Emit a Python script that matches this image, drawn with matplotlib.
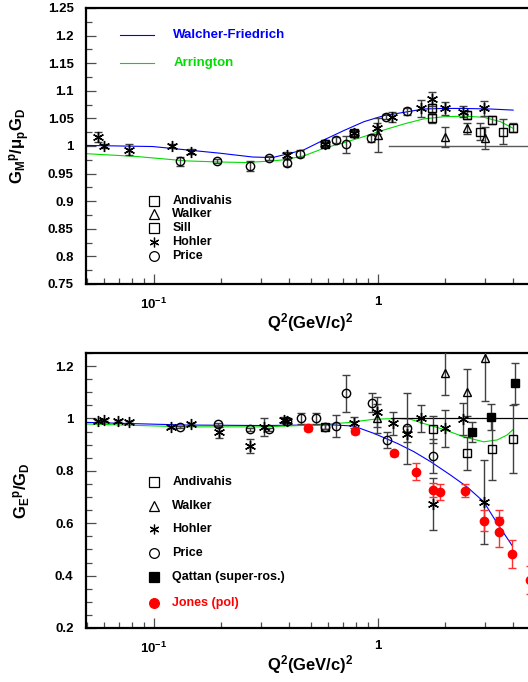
import numpy as np
import matplotlib
matplotlib.use('Agg')
import matplotlib.pyplot as plt
from matplotlib.ticker import MultipleLocator, FormatStrFormatter, NullFormatter, LogLocator

plt.rcParams['font.family'] = ['Liberation Sans', 'DejaVu Sans']
plt.rcParams['mathtext.fontset'] = 'custom'
plt.rcParams['mathtext.rm'] = 'Liberation Sans'
plt.rcParams['mathtext.it'] = 'Liberation Sans:bold'
plt.rcParams['mathtext.bf'] = 'Liberation Sans:bold'

# ---------------- top panel: G_M^p / mu_p G_D ----------------
wf_m_x = [0.05, 0.0987, 0.139, 0.196, 0.276, 0.339, 0.38, 0.467, 0.574, 0.705, 0.866,
          1.064, 1.31, 1.60, 1.97, 2.42, 3.18, 4.02]
wf_m_y = [1.001, 0.999, 0.993, 0.987, 0.980, 0.979, 0.984, 0.993, 1.011, 1.028, 1.044,
          1.055, 1.061, 1.067, 1.068, 1.068, 1.067, 1.065]
ar_m_x = [0.05, 0.0834, 0.139, 0.196, 0.257, 0.339, 0.38, 0.467, 0.574, 0.705, 0.866,
          1.064, 1.31, 1.60, 1.97, 2.42, 2.97, 3.53, 4.02]
ar_m_y = [0.986, 0.981, 0.973, 0.971, 0.970, 0.973, 0.975, 0.982, 0.996, 1.006, 1.017,
          1.029, 1.040, 1.049, 1.053, 1.054, 1.052, 1.044, 1.032]

andiv_m_x = [1.75, 2.5, 3.25, 4.0]
andiv_m_y = [1.050, 1.056, 1.047, 1.033]
andiv_m_e = [0.008, 0.008, 0.008, 0.008]
walker_m_x = [1.0, 2.0, 2.49, 3.0]
walker_m_y = [1.020, 1.017, 1.032, 1.014]
walker_m_e = [0.030, 0.018, 0.010, 0.020]
sill_m_x = [0.58, 0.78, 1.75, 2.87, 3.62]
sill_m_y = [1.004, 1.023, 1.068, 1.026, 1.026]
sill_m_e = [0.006, 0.006, 0.008, 0.015, 0.023]
hohler_m_x = [0.0561, 0.060, 0.0776, 0.120, 0.146, 0.391, 0.58, 0.78, 0.99, 1.158,
              1.56, 1.75, 2.0, 2.40, 2.99]
hohler_m_y = [1.017, 1.000, 0.993, 1.000, 0.990, 0.984, 1.004, 1.023, 1.032, 1.053,
              1.068, 1.085, 1.068, 1.062, 1.068]
hohler_m_e = [0.009, 0.004, 0.010, 0.004, 0.004, 0.006, 0.004, 0.005, 0.010, 0.009,
              0.016, 0.012, 0.012, 0.010, 0.014]
price_m_x = [0.1306, 0.1905, 0.268, 0.327, 0.391, 0.449, 0.58, 0.647, 0.722, 0.782,
             0.933, 1.09, 1.35]
price_m_y = [0.972, 0.973, 0.964, 0.978, 0.970, 0.986, 1.004, 1.011, 1.003, 1.023,
             1.014, 1.053, 1.063]
price_m_e = [0.0085, 0.004, 0.009, 0.004, 0.006, 0.006, 0.004, 0.006, 0.015, 0.006,
             0.006, 0.005, 0.006]

# ---------------- bottom panel: G_E^p / G_D ----------------
wf_e_x = [0.05, 0.139, 0.31, 0.615, 0.78, 0.96, 1.22, 1.45, 1.72, 2.11, 2.50, 2.97, 3.41, 3.99]
wf_e_y = [0.985, 0.975, 0.973, 0.976, 0.971, 0.943, 0.905, 0.873, 0.835, 0.784, 0.739,
          0.682, 0.600, 0.513]
ar_e_x = [0.05, 0.139, 0.31, 0.518, 0.73, 0.96, 1.22, 1.40, 1.60, 1.97, 2.42, 2.97,
          3.41, 3.78, 4.02]
ar_e_y = [0.979, 0.968, 0.968, 0.975, 0.984, 0.997, 1.000, 0.997, 0.981, 0.958, 0.930,
          0.911, 0.918, 0.937, 0.958]

andiv_e_x = [0.58, 1.76, 2.5, 3.25, 4.0]
andiv_e_y = [0.968, 0.958, 0.867, 0.883, 0.920]
andiv_e_e = [0.010, 0.050, 0.064, 0.118, 0.130]
walker_e_x = [0.993, 2.0, 2.49, 3.0]
walker_e_y = [1.000, 1.172, 1.100, 1.230]
walker_e_e = [0.057, 0.083, 0.090, 0.165]
hohler_e_x = [0.0561, 0.060, 0.0688, 0.0772, 0.119, 0.146, 0.195, 0.268, 0.311, 0.382,
              0.391, 0.78, 0.987, 1.17, 1.35, 1.56, 1.76, 2.0, 2.41, 2.99]
hohler_e_y = [0.991, 0.994, 0.991, 0.987, 0.968, 0.979, 0.947, 0.895, 0.966, 0.994,
              0.991, 0.984, 1.026, 0.981, 0.941, 1.000, 0.673, 0.962, 0.998, 0.680]
hohler_e_e = [0.005, 0.005, 0.005, 0.005, 0.005, 0.005, 0.022, 0.027, 0.034, 0.010,
              0.010, 0.020, 0.057, 0.045, 0.030, 0.050, 0.100, 0.071, 0.060, 0.160]
price_e_x = [0.130, 0.193, 0.267, 0.327, 0.391, 0.452, 0.530, 0.58, 0.652, 0.72,
             0.943, 1.10, 1.35, 1.76]
price_e_y = [0.968, 0.977, 0.958, 0.958, 0.991, 1.000, 1.000, 0.968, 0.972, 1.096,
             1.061, 0.918, 0.962, 0.857]
price_e_e = [0.005, 0.006, 0.006, 0.006, 0.010, 0.022, 0.022, 0.010, 0.042, 0.070,
             0.037, 0.029, 0.135, 0.064]
qattan_x = [2.64, 3.2, 4.09]
qattan_y = [0.947, 1.007, 1.134]
qattan_e = [0.038, 0.050, 0.078]
jones_x = [0.489, 0.787, 1.18, 1.48, 1.76, 1.885, 2.46, 2.97, 3.48, 3.48, 3.99, 4.77]
jones_y = [0.965, 0.952, 0.867, 0.797, 0.727, 0.718, 0.724, 0.610, 0.610, 0.568, 0.482, 0.383]
jones_e = [0.012, 0.012, 0.010, 0.033, 0.025, 0.030, 0.025, 0.040, 0.040, 0.057, 0.053, 0.053]

XMIN, XMAX = 0.0497, 6.0
STAR = (6, 2, 0)


def style_axes(ax, ymin, ymax, major, minor):
    ax.set_xscale('log')
    ax.set_xlim(XMIN, XMAX)
    ax.set_ylim(ymin, ymax)
    ax.yaxis.set_major_locator(MultipleLocator(major))
    ax.yaxis.set_minor_locator(MultipleLocator(minor))
    ax.yaxis.set_major_formatter(FormatStrFormatter('%g'))
    ax.set_xticks([0.1, 1])
    ax.set_xticklabels([r'$\mathbf{10^{-1}}$', '1'])
    ax.xaxis.set_minor_locator(LogLocator(base=10, subs=np.arange(2, 10)))
    ax.xaxis.set_minor_formatter(NullFormatter())
    ax.tick_params(which='both', direction='in', top=False, right=False,
                   color='0.3', width=0.9, labelsize=9.5)
    ax.tick_params(which='major', length=7, pad=9)
    ax.tick_params(which='minor', length=4)
    for lab in ax.get_yticklabels() + ax.get_xticklabels():
        lab.set_fontweight('bold')
    for s in ax.spines.values():
        s.set_linewidth(1.6)


def errs(ax, x, y, e, marker, filled=False, color='k', ecolor='0.25', ms=6):
    ax.errorbar(x, y, yerr=e, fmt='', marker=marker, linestyle='none', ms=ms,
                mfc=color if filled else 'none', mec=color, mew=1.0, ecolor=ecolor,
                elinewidth=1.0, capsize=3, capthick=1.0, zorder=3)


def legend_marker(ax, yfrac, marker, text, filled=False, color='k'):
    ax.plot([0.146], [yfrac], marker=marker, ms=7, mfc=color if filled else 'none',
            mec=color, mew=0.9, transform=ax.transAxes, clip_on=False)
    ax.text(0.185, yfrac, text, transform=ax.transAxes, va='center', ha='left',
            fontsize=9, fontweight='bold', color=color)


fig = plt.figure(figsize=(5.28, 6.82), dpi=100)
ax1 = fig.add_axes([0.163, 0.5836, 0.8826, 0.4047])
ax2 = fig.add_axes([0.163, 0.0792, 0.8826, 0.4032])

# top
style_axes(ax1, 0.75, 1.25, 0.05, 0.025)
ax1.plot(wf_m_x, wf_m_y, color='#0000ff', lw=0.8)
ax1.plot(ar_m_x, ar_m_y, color='#00dd00', lw=0.8)
ax1.plot([1.12, XMAX], [1, 1], color='0.35', lw=1.0)
errs(ax1, andiv_m_x, andiv_m_y, andiv_m_e, 's')
errs(ax1, walker_m_x, walker_m_y, walker_m_e, '^')
errs(ax1, sill_m_x, sill_m_y, sill_m_e, 's')
errs(ax1, hohler_m_x, hohler_m_y, hohler_m_e, STAR, ms=8)
errs(ax1, price_m_x, price_m_y, price_m_e, 'o')

ax1.plot([0.073, 0.146], [0.902, 0.902], color='#0000ff', lw=0.8, transform=ax1.transAxes)
ax1.text(0.187, 0.902, 'Walcher-Friedrich', color='#0000ff', transform=ax1.transAxes,
         va='center', fontsize=9.5, fontweight='bold')
ax1.plot([0.073, 0.146], [0.80, 0.80], color='#00dd00', lw=0.8, transform=ax1.transAxes)
ax1.text(0.187, 0.80, 'Arrington', color='#00dd00', transform=ax1.transAxes,
         va='center', fontsize=9.5, fontweight='bold')

legend_marker(ax1, 0.301, 's', 'Andivahis')
legend_marker(ax1, 0.254, '^', 'Walker')
legend_marker(ax1, 0.203, 's', 'Sill')
legend_marker(ax1, 0.152, STAR, 'Hohler')
legend_marker(ax1, 0.101, 'o', 'Price')

ax1.set_xlabel(r'$\mathbf{Q^2(GeV/c)^2}$', fontsize=12)
ax1.xaxis.set_label_coords(0.48, -0.10)
ax1.set_ylabel(r'$\mathbf{G_M{}^p/\mu_p G_D}$', fontsize=12)
ax1.yaxis.set_label_coords(-0.115, 0.5)

# bottom
style_axes(ax2, 0.2, 1.25, 0.2, 0.05)
ax2.plot(wf_e_x, wf_e_y, color='#0000ff', lw=0.8)
ax2.plot(ar_e_x, ar_e_y, color='#00dd00', lw=0.8)
ax2.plot([1.14, XMAX], [1, 1], color='k', lw=0.9)
errs(ax2, andiv_e_x, andiv_e_y, andiv_e_e, 's')
errs(ax2, walker_e_x, walker_e_y, walker_e_e, '^')
errs(ax2, hohler_e_x, hohler_e_y, hohler_e_e, STAR, ms=8)
errs(ax2, price_e_x, price_e_y, price_e_e, 'o')
errs(ax2, qattan_x, qattan_y, qattan_e, 's', filled=True)
errs(ax2, jones_x, jones_y, jones_e, 'o', filled=True, color='#ff0000', ecolor='#ff3030')

legend_marker(ax2, 0.531, 's', 'Andivahis')
legend_marker(ax2, 0.444, '^', 'Walker')
legend_marker(ax2, 0.360, STAR, 'Hohler')
legend_marker(ax2, 0.273, 'o', 'Price')
legend_marker(ax2, 0.185, 's', 'Qattan (super-ros.)', filled=True)
legend_marker(ax2, 0.091, 'o', 'Jones (pol)', filled=True, color='#ff0000')

ax2.set_xlabel(r'$\mathbf{Q^2(GeV/c)^2}$', fontsize=12)
ax2.xaxis.set_label_coords(0.48, -0.09)
ax2.set_ylabel(r'$\mathbf{G_E{}^p/G_D}$', fontsize=12)
ax2.yaxis.set_label_coords(-0.115, 0.5)

fig.savefig('out.png', dpi=100)
